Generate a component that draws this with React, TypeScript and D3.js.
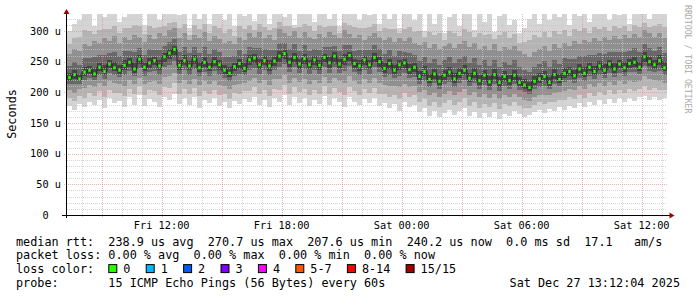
import React from 'react';
import * as d3 from 'd3';

// ---------- data ----------
const startTime = new Date(2025, 11, 26, 7, 16);
const endTime = new Date(2025, 11, 27, 13, 16);
const stepMinutes = 15;

const median = [
  224, 229, 222, 233, 236, 230, 241, 234, 246, 240, 236, 244, 249, 238, 254, 241, 248, 252, 243, 258,
  264, 270, 244, 252, 243, 254, 240, 249, 241, 250, 245, 236, 231, 242, 247, 239, 253, 256, 245, 252,
  243, 251, 259, 263, 249, 257, 246, 255, 245, 253, 244, 257, 248, 259, 246, 254, 260, 247, 243, 253,
  245, 257, 250, 239, 247, 236, 245, 248, 237, 241, 226, 234, 221, 230, 218, 228, 233, 222, 231, 236,
  223, 231, 219, 228, 217, 229, 216, 226, 219, 228, 216, 212, 208, 218, 222, 226, 216, 229, 221, 231,
  234, 227, 238, 231, 241, 234, 243, 236, 246, 238, 246, 240, 247, 249, 241, 258, 250, 245, 252, 240,
];
const minRtt = [
  178, 172, 181, 176, 185, 179, 188, 174, 190, 183, 186, 176, 192, 180, 195, 178, 189, 184, 176, 193,
  188, 197, 181, 190, 179, 192, 175, 187, 182, 190, 178, 185, 174, 186, 181, 189, 184, 193, 179, 188,
  176, 191, 185, 196, 180, 192, 183, 190, 177, 188, 181, 194, 179, 190, 184, 176, 192, 185, 179, 189,
  182, 191, 178, 183, 175, 181, 170, 184, 176, 180, 168, 174, 162, 170, 160, 167, 172, 163, 169, 175,
  161, 168, 158, 166, 160, 168, 157, 165, 162, 170, 165, 160, 163, 168, 171, 166, 173, 170, 176, 172,
  178, 174, 182, 176, 185, 179, 187, 181, 189, 183, 190, 185, 191, 186, 192, 194, 188, 193, 187, 190,
];
const lowQ = [
  203, 199, 206, 207, 212, 209, 215, 210, 218, 216, 213, 211, 220, 214, 224, 213, 217, 219, 214, 225,
  226, 232, 215, 220, 214, 222, 212, 218, 213, 219, 212, 211, 205, 212, 214, 216, 219, 224, 215, 220,
  212, 221, 222, 229, 216, 224, 217, 222, 214, 220, 215, 225, 216, 224, 218, 215, 226, 219, 213, 221,
  215, 224, 216, 212, 211, 210, 208, 214, 209, 210, 200, 204, 195, 199, 192, 198, 202, 196, 200, 205,
  196, 200, 192, 197, 191, 198, 189, 196, 193, 198, 192, 188, 186, 192, 196, 195, 196, 199, 200, 202,
  206, 203, 210, 206, 213, 209, 215, 211, 217, 212, 218, 214, 219, 217, 219, 227, 221, 220, 219, 216,
];
const highQ = [
  262, 270, 268, 279, 276, 284, 280, 289, 283, 292, 281, 290, 286, 294, 291, 282, 293, 287, 296, 292,
  301, 305, 288, 297, 285, 294, 289, 298, 283, 292, 287, 280, 284, 278, 291, 285, 296, 290, 299, 288,
  294, 286, 303, 297, 292, 300, 289, 298, 291, 287, 295, 290, 299, 293, 288, 301, 295, 289, 294, 286,
  292, 297, 290, 285, 291, 282, 289, 284, 290, 281, 277, 282, 273, 279, 270, 276, 281, 272, 279, 284,
  274, 280, 271, 276, 269, 278, 268, 274, 270, 276, 268, 262, 258, 266, 271, 275, 268, 278, 272, 280,
  276, 283, 279, 286, 282, 288, 284, 290, 286, 292, 287, 293, 289, 295, 290, 301, 296, 291, 297, 288,
];
const maxRtt = [
  300, 312, 318, 332, 340, 308, 340, 322, 336, 340, 315, 322, 340, 328, 340, 310, 331, 340, 318, 340,
  340, 340, 326, 340, 305, 340, 320, 340, 312, 340, 335, 318, 340, 308, 340, 325, 340, 316, 340, 330,
  312, 340, 340, 322, 340, 310, 340, 328, 340, 315, 340, 340, 320, 340, 308, 340, 330, 340, 318, 340,
  326, 340, 312, 340, 320, 340, 305, 340, 330, 318, 340, 300, 335, 312, 340, 296, 322, 340, 308, 328,
  340, 302, 330, 315, 340, 298, 325, 340, 310, 318, 296, 305, 320, 340, 312, 336, 318, 340, 322, 340,
  310, 340, 325, 340, 315, 340, 330, 340, 318, 340, 326, 340, 312, 340, 335, 340, 320, 340, 328, 336,
];

const yMajorTicks = [0, 50, 100, 150, 200, 250, 300];
const yTickLabels = ['0', '50 u', '100 u', '150 u', '200 u', '250 u', '300 u'];
const yMinorStep = 10;
const yTop = 327.7;

const lossColors = [
  { label: '0', color: '#26ff00' },
  { label: '1', color: '#00b8ff' },
  { label: '2', color: '#0059ff' },
  { label: '3', color: '#7e00ff' },
  { label: '4', color: '#ff00ff' },
  { label: '5-7', color: '#ff5500' },
  { label: '8-14', color: '#ff0000' },
  { label: '15/15', color: '#a10000' },
];

const legendLine1 = 'median rtt:  238.9 us avg  270.7 us max  207.6 us min  240.2 us now  0.0 ms sd  17.1   am/s';
const legendLine2 = 'packet loss: 0.00 % avg  0.00 % max  0.00 % min  0.00 % now';
const legendLine3 = 'loss color:';
const legendLine4 = 'probe:       15 ICMP Echo Pings (56 Bytes) every 60s';
const dateStamp = 'Sat Dec 27 13:12:04 2025';
const yAxisTitle = 'Seconds';
const watermark = 'RRDTOOL / TOBI OETIKER';

// ---------- layout ----------
const W = 697;
const H = 297;
const PL = 67;
const PR = 667;
const PT = 14;
const PB = 215;
const MONO = '"DejaVu Sans Mono", "Liberation Mono", monospace';
const CW = 7.1; // legend char width

export default function App() {
  const x = d3.scaleTime().domain([startTime, endTime]).range([PL, PR]);
  const y = d3.scaleLinear().domain([0, yTop]).range([PB, PT]);
  const tAt = (i: number) => new Date(startTime.getTime() + i * stepMinutes * 60000);
  const cy = (v: number) => y(Math.min(v, yTop + 5));

  const hours = d3.timeHour.range(d3.timeHour.ceil(startTime), endTime);
  const fmt = d3.timeFormat('%a %H:%M');
  const yMinor = d3.range(yMinorStep, yTop, yMinorStep).filter((v) => v % 50 !== 0);

  const bands: { lo: (i: number) => number; hi: (i: number) => number; color: string }[] = [
    { lo: (i) => minRtt[i], hi: (i) => maxRtt[i], color: '#d4d4d4' },
    {
      lo: (i) => minRtt[i] + (lowQ[i] - minRtt[i]) * 0.5,
      hi: (i) => highQ[i] + (Math.min(maxRtt[i], yTop) - highQ[i]) * 0.45,
      color: '#b4b4b4',
    },
    { lo: (i) => lowQ[i], hi: (i) => highQ[i], color: '#909090' },
    { lo: (i) => (lowQ[i] + median[i]) / 2, hi: (i) => (highQ[i] + median[i]) / 2, color: '#686868' },
    {
      lo: (i) => median[i] - (median[i] - lowQ[i]) * 0.25,
      hi: (i) => median[i] + (highQ[i] - median[i]) * 0.18,
      color: '#444444',
    },
  ];

  const medLine = d3
    .line<number>()
    .x((_, i) => x(tAt(i)))
    .y((d) => y(d))
    .curve(d3.curveStepAfter);
  const medPath = medLine([...median, median[median.length - 1]]) || '';

  // legend loss color items
  let lx = 16 + 13 * CW;
  const lossItems = lossColors.map((c) => {
    const item = { ...c, sx: lx, tx: lx + 15 };
    lx = item.tx + c.label.length * CW + 15.3;
    return item;
  });

  const rowY = [245.7, 259.4, 273.1, 286.8];

  return (
    <svg
      width={W}
      height={H}
      viewBox={`0 0 ${W} ${H}`}
      style={{ position: 'absolute', left: 0, top: 0, background: '#ffffff' }}
      fontFamily={MONO}
    >
      <rect x={0} y={0} width={W} height={H} fill="#ffffff" />
      <defs>
        <clipPath id="plotClip">
          <rect x={PL} y={PT} width={PR - PL} height={PB - PT} />
        </clipPath>
      </defs>

      {/* smoke */}
      <g clipPath="url(#plotClip)" shapeRendering="crispEdges">
        {bands.map((b, bi) => (
          <g key={bi} fill={b.color}>
            {median.map((_, i) => {
              const x0 = x(tAt(i));
              const x1 = x(tAt(i + 1));
              const yt = cy(b.hi(i));
              const yb = cy(b.lo(i));
              return <rect key={i} x={x0} y={yt} width={x1 - x0} height={Math.max(0, yb - yt)} />;
            })}
          </g>
        ))}
      </g>

      {/* grid */}
      <g shapeRendering="crispEdges" strokeDasharray="1,1" strokeWidth={1}>
        {yMinor.map((v) => (
          <line key={'hm' + v} x1={PL} x2={PR} y1={Math.round(y(v)) + 0.5} y2={Math.round(y(v)) + 0.5} stroke="#c8c8c8" strokeOpacity={0.75} />
        ))}
        {hours
          .filter((h) => h.getHours() % 3 !== 0)
          .map((h) => (
            <line key={'vm' + h.getTime()} x1={Math.round(x(h)) + 0.5} x2={Math.round(x(h)) + 0.5} y1={PT} y2={PB + 2} stroke="#c8c8c8" strokeOpacity={0.75} />
          ))}
        {yMajorTicks
          .filter((v) => v > 0)
          .map((v) => (
            <line key={'hM' + v} x1={PL - 3} x2={PR} y1={Math.round(y(v)) + 0.5} y2={Math.round(y(v)) + 0.5} stroke="#e08a8a" strokeOpacity={0.65} />
          ))}
        {hours
          .filter((h) => h.getHours() % 3 === 0)
          .map((h) => (
            <line key={'vM' + h.getTime()} x1={Math.round(x(h)) + 0.5} x2={Math.round(x(h)) + 0.5} y1={PT} y2={PB + 3} stroke="#e08a8a" strokeOpacity={0.65} />
          ))}
      </g>

      {/* median */}
      <g clipPath="url(#plotClip)">
        <path d={medPath} fill="none" stroke="#262626" strokeWidth={1} />
        {median.map((v, i) => {
          const xc = (x(tAt(i)) + x(tAt(i + 1))) / 2;
          return <rect key={i} x={xc - 1.25} y={y(v) - 1.5} width={2.5} height={3} fill={lossColors[0].color} />;
        })}
      </g>

      {/* axes */}
      <g shapeRendering="crispEdges">
        <line x1={66.5} x2={66.5} y1={PB + 3} y2={12} stroke="#000" strokeWidth={1} />
        <line x1={62} x2={670} y1={PB + 0.5} y2={PB + 0.5} stroke="#000" strokeWidth={1.6} />
      </g>
      <path d={`M66.5,9 L63.5,14 L69.5,14 Z`} fill="#a00000" />
      <path d={`M674.5,215.5 L669.5,212.5 L669.5,218.5 Z`} fill="#a00000" />

      {/* y tick labels */}
      <g fontSize={10.3} fill="#000">
        {yMajorTicks.map((v, i) => (
          <text key={v} x={v === 0 ? 61 - 2 * 6.2 : 61} y={y(v) + 3.8} textAnchor="end">
            {yTickLabels[i]}
          </text>
        ))}
      </g>

      {/* x tick labels */}
      <g fontSize={10.3} fill="#000">
        {hours
          .filter((h) => h.getHours() % 6 === 0)
          .map((h) => (
            <text key={h.getTime()} x={x(h)} y={229} textAnchor="middle">
              {fmt(h)}
            </text>
          ))}
      </g>

      {/* axis title */}
      <text transform="translate(15.5,114) rotate(-90)" textAnchor="middle" fontSize={11.8} fill="#000">
        {yAxisTitle}
      </text>

      {/* watermark */}
      <text transform="translate(685,5) rotate(90)" fontSize={8.2} fill="#aaaaaa">
        {watermark}
      </text>

      {/* legend */}
      <g fontSize={11.8} fill="#000" style={{ whiteSpace: 'pre' }}>
        <text x={16} y={rowY[0]} xmlSpace="preserve">{legendLine1}</text>
        <text x={16} y={rowY[1]} xmlSpace="preserve">{legendLine2}</text>
        <text x={16} y={rowY[2]} xmlSpace="preserve">{legendLine3}</text>
        {lossItems.map((it) => (
          <g key={it.label}>
            <rect x={it.sx + 0.5} y={rowY[2] - 8.5} width={8} height={8} fill={it.color} stroke="#000" strokeWidth={1} />
            <text x={it.tx} y={rowY[2]}>{it.label}</text>
          </g>
        ))}
        <text x={16} y={rowY[3]} xmlSpace="preserve">{legendLine4}</text>
        <text x={680} y={rowY[3]} textAnchor="end">{dateStamp}</text>
      </g>
    </svg>
  );
}
